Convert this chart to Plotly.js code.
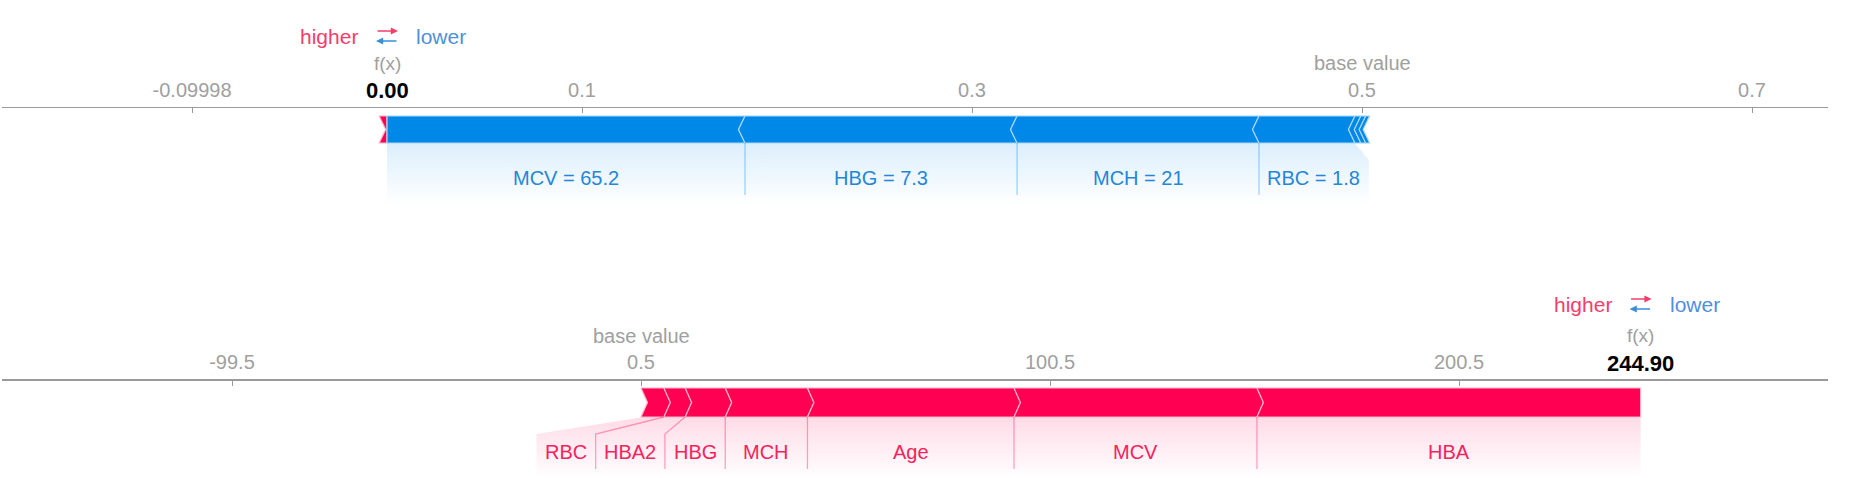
<!DOCTYPE html>
<html><head><meta charset="utf-8">
<script src="https://cdn.plot.ly/plotly-3.0.1.min.js"></script>
<style>html,body{margin:0;padding:0;background:#fff}#chart{width:1856px;height:478px}</style>
</head><body><div id="chart"></div>
<script>
// ---------------- data ----------------
// Panel 1 (top)
const topBaseValue = 0.5;
const topFx = 0.0;
const topPosNames = [''];                     // features pushing higher (red)
const topPosEffects = [0.004];
const topNegNames = ['MCV = 65.2', 'HBG = 7.3', 'MCH = 21', 'RBC = 1.8', '', '', ''];  // pushing lower (blue)
const topNegEffects = [0.1836, 0.1395, 0.1241, 0.0492, 0.0030, 0.0025, 0.0020];
const topTickVals = [-0.09998, 0.1, 0.3, 0.5, 0.7];
const topTickText = ['-0.09998', '0.1', '0.3', '0.5', '0.7'];

// Panel 2 (bottom)
const botBaseValue = 0.5;
const botFx = 244.90;
const botPosNames = ['RBC', 'HBA2', 'HBG', 'MCH', 'Age', 'MCV', 'HBA'];
const botPosEffects = [5.6, 5.2, 9.8, 20.1, 50.5, 59.4, 93.8];
const botNegNames = [];
const botNegEffects = [];
const botTickVals = [-99.5, 0.5, 100.5, 200.5];
const botTickText = ['-99.5', '0.5', '100.5', '200.5'];

// ---------------- styling / layout ----------------
const W = 1856, H = 478;
const FONT = '"Liberation Sans", Arial, Helvetica, sans-serif';
const RED = '#ff0052', BLUE = '#0088e8';
const RED_EDGE = '#ffb3c9', BLUE_EDGE = '#a8d6fa';
const RED_SEP = 'rgba(255,0,82,0.35)', BLUE_SEP = 'rgba(0,136,232,0.35)';
const RED_TXT = '#f5225c', BLUE_TXT = '#2586d8';
const GRAY = '#a0a0a0';
const DOM = [2 / W, 1828 / W];
const TIP = 6.5, SLANT = 17;

const panels = [
  { xa: 'x', axKey: 'xaxis', range: [-0.197436, 0.738974], base: topBaseValue, fx: topFx,
    posN: topPosNames, posE: topPosEffects, negN: topNegNames, negE: topNegEffects,
    tv: topTickVals, tt: topTickText, lineY: 106.5, barTop: 116, barBot: 143, hdrY: 36 },
  { xa: 'x2', axKey: 'xaxis2', range: [-155.734, 290.72], base: botBaseValue, fx: botFx,
    posN: botPosNames, posE: botPosEffects, negN: botNegNames, negE: botNegEffects,
    tv: botTickVals, tt: botTickText, lineY: 379, barTop: 388, barBot: 417, hdrY: 304 }
];

const cv = document.createElement('canvas').getContext('2d');
cv.font = '20px "Liberation Sans", Arial';
const textW = s => cv.measureText(s).width;

const traces = [];
const annotations = [];
const layout = {
  width: W, height: H, margin: { l: 0, r: 0, t: 0, b: 0 },
  paper_bgcolor: '#fff', plot_bgcolor: 'rgba(0,0,0,0)', showlegend: false,
  font: { family: FONT },
  yaxis: { range: [H, 0], domain: [0, 1], visible: false, fixedrange: true, anchor: 'x' },
  annotations: annotations
};

panels.forEach((p, pi) => {
  const pxu = (DOM[1] - DOM[0]) * W / (p.range[1] - p.range[0]);
  const toPx = v => DOM[0] * W + (v - p.range[0]) * pxu;
  const toD = px => p.range[0] + (px - DOM[0] * W) / pxu;
  const t = TIP / pxu;
  const mid = (p.barTop + p.barBot) / 2;

  layout[p.axKey] = {
    domain: DOM, range: p.range, anchor: 'free', position: 1 - p.lineY / H, side: 'top',
    showline: true, linecolor: '#9a9a9a', linewidth: 1.5, ticks: 'inside', ticklen: 5,
    tickcolor: '#9a9a9a', tickwidth: 1, tickvals: p.tv, ticktext: p.tt,
    tickfont: { size: 20, color: GRAY, family: FONT }, ticklabelstandoff: 2,
    showgrid: false, zeroline: false, fixedrange: true
  };
  if (pi > 0) layout[p.axKey].overlaying = 'x';

  // segments
  const sumPos = p.posE.reduce((a, b) => a + b, 0);
  const segs = [];
  let c = p.fx - sumPos;
  p.posE.forEach((e, i) => { segs.push({ a: c, b: c + e, pos: true, name: p.posN[i], last: i === p.posE.length - 1 }); c += e; });
  c = p.fx;
  p.negE.forEach((e, i) => { segs.push({ a: c, b: c + e, pos: false, name: p.negN[i], first: i === 0 }); c += e; });

  // bar polygons
  segs.forEach(s => {
    let xs;
    if (s.pos) {
      const tr = s.last ? 0 : t;
      xs = [s.a, s.b, s.b + tr, s.b, s.a, s.a + t, s.a];
    } else {
      const tl = s.first ? 0 : t;
      xs = [s.a, s.b, s.b - t, s.b, s.a, s.a - tl, s.a];
    }
    const ys = [p.barTop, p.barTop, mid, p.barBot, p.barBot, mid, p.barTop];
    traces.push({ type: 'scatter', mode: 'lines', x: xs, y: ys, xaxis: p.xa, yaxis: 'y', fill: 'toself',
      fillcolor: s.pos ? RED : BLUE, line: { color: s.pos ? RED_EDGE : BLUE_EDGE, width: 1.2 }, hoverinfo: 'skip' });
  });

  // label boxes
  const posSegs = segs.filter(s => s.pos && s.name);
  const negSegs = segs.filter(s => !s.pos && s.name);
  let prevL = Infinity;
  for (let i = posSegs.length - 1; i >= 0; i--) {
    const s = posSegs[i];
    const minW = textW(s.name) + 17;
    s.R = Math.min(toPx(s.b), prevL);
    s.L = Math.min(toPx(s.a), s.R - minW);
    prevL = s.L;
  }
  let prevR = -Infinity;
  negSegs.forEach(s => {
    const minW = textW(s.name) + 17;
    s.L = Math.max(toPx(s.a), prevR);
    s.R = Math.max(toPx(s.b), s.L + minW);
    prevR = s.R;
  });

  const labelBottom = p.barBot + 62, sepBottom = p.barBot + 52;
  [posSegs, negSegs].forEach(group => {
    group.forEach((s, i) => {
      const col = s.pos ? '255,0,82' : '0,136,232';
      traces.push({ type: 'scatter', mode: 'lines', xaxis: p.xa, yaxis: 'y',
        x: [s.a, s.b, toD(s.R), toD(s.R), toD(s.L), toD(s.L), s.a],
        y: [p.barBot + 0.5, p.barBot + 0.5, p.barBot + SLANT, labelBottom, labelBottom, p.barBot + SLANT, p.barBot + 0.5],
        fill: 'toself', line: { width: 0, color: 'rgba(0,0,0,0)' },
        fillgradient: { type: 'vertical', start: p.barBot, stop: labelBottom,
          colorscale: [[0, 'rgba(' + col + ',0.14)'], [1, 'rgba(' + col + ',0)']] },
        hoverinfo: 'skip' });
      annotations.push({ x: toD((s.L + s.R) / 2), y: p.barBot + 35, xref: p.xa, yref: 'y', text: s.name,
        showarrow: false, font: { size: 20, color: s.pos ? RED_TXT : BLUE_TXT, family: FONT } });
      if (i < group.length - 1) {
        const bx = s.b, ex = toD(s.R);
        traces.push({ type: 'scatter', mode: 'lines', xaxis: p.xa, yaxis: 'y',
          x: [bx, ex, ex], y: [p.barBot, p.barBot + SLANT, sepBottom],
          line: { color: s.pos ? RED_SEP : BLUE_SEP, width: 1.3 }, hoverinfo: 'skip' });
      }
    });
  });

  // header texts
  const fxText = p.fx.toFixed(2);
  annotations.push({ x: p.fx, y: p.lineY - 43.5, xref: p.xa, yref: 'y', text: 'f(x)', showarrow: false,
    font: { size: 19, color: GRAY, family: FONT } });
  annotations.push({ x: p.fx, y: p.lineY - 16, xref: p.xa, yref: 'y', text: '<b>' + fxText + '</b>', showarrow: false,
    font: { size: 22, color: '#000', family: FONT } });
  annotations.push({ x: p.base, y: p.lineY - 43.5, xref: p.xa, yref: 'y', text: 'base value', showarrow: false,
    font: { size: 20, color: GRAY, family: FONT } });
  annotations.push({ x: toD(toPx(p.fx) - 27), y: p.hdrY, xref: p.xa, yref: 'y', text: 'higher', xanchor: 'right',
    showarrow: false, font: { size: 21, color: '#f53d6b', family: FONT } });
  annotations.push({ x: toD(toPx(p.fx) + 27), y: p.hdrY, xref: p.xa, yref: 'y', text: 'lower', xanchor: 'left',
    showarrow: false, font: { size: 21, color: '#4f8fdc', family: FONT } });
  annotations.push({ x: toD(toPx(p.fx) + 11), y: p.hdrY - 5, xref: p.xa, yref: 'y', text: '', showarrow: true,
    ax: -22, ay: 0, arrowhead: 2, arrowsize: 0.9, arrowwidth: 1.6, arrowcolor: '#f53d6b' });
  annotations.push({ x: toD(toPx(p.fx) - 11), y: p.hdrY + 5, xref: p.xa, yref: 'y', text: '', showarrow: true,
    ax: 22, ay: 0, arrowhead: 2, arrowsize: 0.9, arrowwidth: 1.6, arrowcolor: '#3a8fd8' });
});

Plotly.newPlot('chart', traces, layout, { staticPlot: true, displayModeBar: false });
</script></body></html>
